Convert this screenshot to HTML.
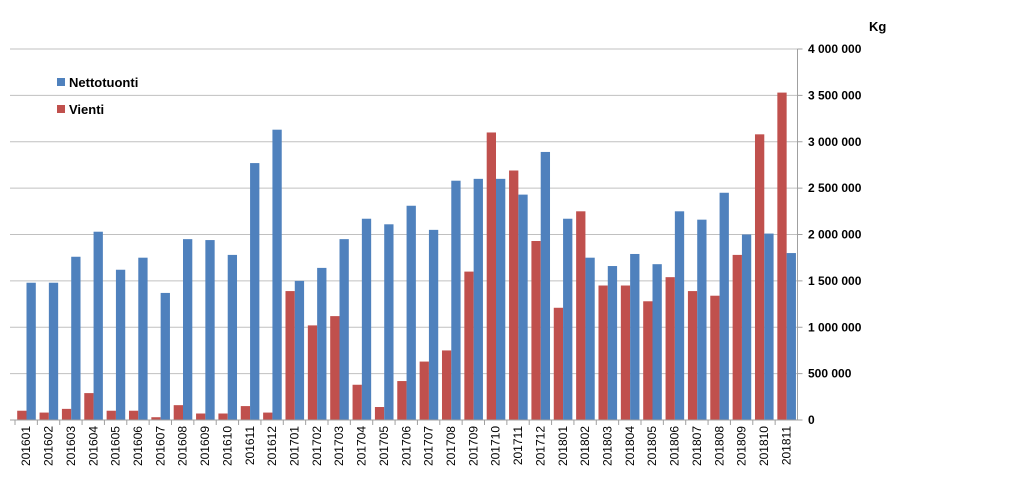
<!DOCTYPE html>
<html><head><meta charset="utf-8"><style>
body{margin:0;background:#fff;width:1023px;height:479px;overflow:hidden;font-family:"Liberation Sans",sans-serif}
</style></head><body>
<svg id="c" width="1023" height="479" xmlns="http://www.w3.org/2000/svg"></svg>
<script>
const categories=["201601","201602","201603","201604","201605","201606","201607","201608","201609","201610","201611","201612","201701","201702","201703","201704","201705","201706","201707","201708","201709","201710","201711","201712","201801","201802","201803","201804","201805","201806","201807","201808","201809","201810","201811"];
const nettotuonti=[1480000,1480000,1760000,2030000,1620000,1750000,1370000,1950000,1940000,1780000,2770000,3130000,1500000,1640000,1950000,2170000,2110000,2310000,2050000,2580000,2600000,2600000,2430000,2890000,2170000,1750000,1660000,1790000,1680000,2250000,2160000,2450000,2000000,2010000,1800000];
const vienti=[100000,80000,120000,290000,100000,100000,30000,160000,70000,70000,150000,80000,1390000,1020000,1120000,380000,140000,420000,630000,750000,1600000,3100000,2690000,1930000,1210000,2250000,1450000,1450000,1280000,1540000,1390000,1340000,1780000,3080000,3530000];
const yTicks=[0,500000,1000000,1500000,2000000,2500000,3000000,3500000,4000000];
const NS="http://www.w3.org/2000/svg",svg=document.getElementById('c');
const X0=15,X1=797.5,Y0=420,Y1=49,MAX=4000000;
const step=(X1-X0)/categories.length;
const y=v=>Y0-(v/MAX)*(Y0-Y1);
const x=i=>X0+i*step;
function mk(t,a){const e=document.createElementNS(NS,t);for(const k in a)e.setAttribute(k,a[k]);svg.appendChild(e);return e;}
yTicks.forEach(v=>{
  if(v>0){const g=mk('line',{x1:10,x2:X1,y1:y(v),y2:y(v),stroke:'#c0c0c0','stroke-width':1});
  
  }
  const tk=mk('line',{x1:X1,x2:X1+5,y1:y(v),y2:y(v),stroke:'#a0a0a0'});
  
  
  const t=mk('text',{x:808,y:y(v)+4,'font-size':12,'font-weight':'bold',fill:'#000'});
  t.textContent=v===0?'0':v.toLocaleString('en-US').replace(/,/g,' ');
  
  
});
const bw=9.3;
categories.forEach((c,i)=>{
  const r=mk('rect',{x:x(i)+2.2,y:y(vienti[i]),width:bw,height:Y0-y(vienti[i]),fill:'#c0504d'});
  
  
  const b=mk('rect',{x:x(i)+2.2+bw,y:y(nettotuonti[i]),width:bw,height:Y0-y(nettotuonti[i]),fill:'#4f81bd'});
  
  
  const tk=mk('line',{x1:x(i),x2:x(i),y1:Y0,y2:Y0+5,stroke:'#a0a0a0'});
  
  
  const cx=x(i)+step/2+4;
  const t=mk('text',{x:cx,y:426,'font-size':12,fill:'#000','text-anchor':'end',transform:`rotate(-90 ${cx} 426)`});
  t.textContent=c;
  
  
});
const ax=mk('line',{x1:X1,x2:X1,y1:Y1,y2:Y0,stroke:'#a0a0a0'});


const xa=mk('line',{x1:10,x2:X1,y1:Y0,y2:Y0,stroke:'#a0a0a0'});


const u=mk('text',{x:869,y:31,'font-size':13,'font-weight':'bold'});u.textContent='Kg';


[['#4f81bd','Nettotuonti',83],['#c0504d','Vienti',110]].forEach(([col,lab,yy])=>{
  const s=mk('rect',{x:57,y:yy-5,width:8,height:8,fill:col});
  
  
  const t=mk('text',{x:69,y:yy+4,'font-size':13,'font-weight':'bold'});t.textContent=lab;
  
  
});
</script>
</body></html>
